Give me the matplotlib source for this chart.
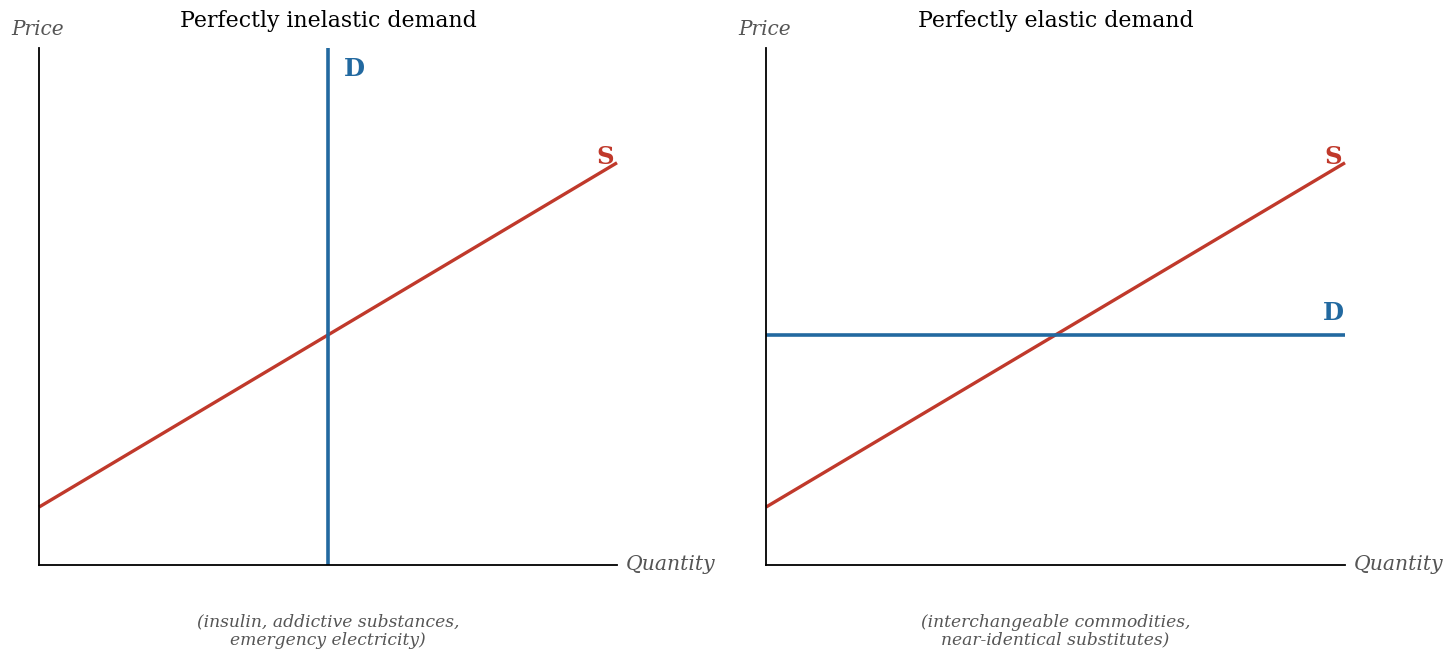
import matplotlib as mpl
mpl.use('Agg')
import matplotlib.pyplot as plt

plt.rcParams['font.family'] = ['DejaVu Serif']

# data (arbitrary units)
quantity = [0, 10]
supply_price = [1.12, 7.78]
demand_qty_inelastic = 5.0
demand_price_elastic = 4.45
titles = ['Perfectly inelastic demand', 'Perfectly elastic demand']
notes = ['(insulin, addictive substances,\nemergency electricity)',
         '(interchangeable commodities,\nnear-identical substitutes)']

red = '#c0392b'
blue = '#2269a0'
grey = '#555555'

fig = plt.figure(figsize=(14.56, 6.61), dpi=100)
ax1 = fig.add_axes([39/1456, 96/661, 578/1456, 517/661])
ax2 = fig.add_axes([766/1456, 96/661, 579/1456, 517/661])

for ax, title, note in zip([ax1, ax2], titles, notes):
    ax.set_xlim(0, 10)
    ax.set_ylim(0, 10)
    ax.spines['top'].set_visible(False)
    ax.spines['right'].set_visible(False)
    ax.spines['left'].set_linewidth(1.3)
    ax.spines['bottom'].set_linewidth(1.3)
    ax.set_xticks([])
    ax.set_yticks([])
    ax.plot(quantity, supply_price, color=red, linewidth=2.4, solid_capstyle='butt', clip_on=False)
    ax.text(9.95, 7.89, 'S', color=red, fontsize=17.5, fontweight='bold',
            ha='right', va='center')
    ax.text(0.5, 1.0 + 27/517, title, transform=ax.transAxes, ha='center', va='center', fontsize=15.8)
    ax.text(-0.048, 1.0 + 18/517, 'Price', transform=ax.transAxes, ha='left', va='center',
            fontsize=14.5, style='italic', color=grey)
    ax.text(1.015, 0.0, 'Quantity', transform=ax.transAxes, ha='left', va='center',
            fontsize=14.7, style='italic', color=grey)
    ax.text(0.5, -0.128, note, transform=ax.transAxes, ha='center', va='center',
            fontsize=12.3, style='italic', color=grey, linespacing=1.1)

ax1.axvline(demand_qty_inelastic, color=blue, linewidth=2.6)
ax1.text(demand_qty_inelastic + 0.27, 9.59, 'D', color=blue, fontsize=17.5, fontweight='bold',
         ha='left', va='center')

ax2.axhline(demand_price_elastic, color=blue, linewidth=2.6)
ax2.text(9.98, 4.87, 'D', color=blue, fontsize=17.5, fontweight='bold',
         ha='right', va='center')

plt.savefig('out.png', dpi=100)
